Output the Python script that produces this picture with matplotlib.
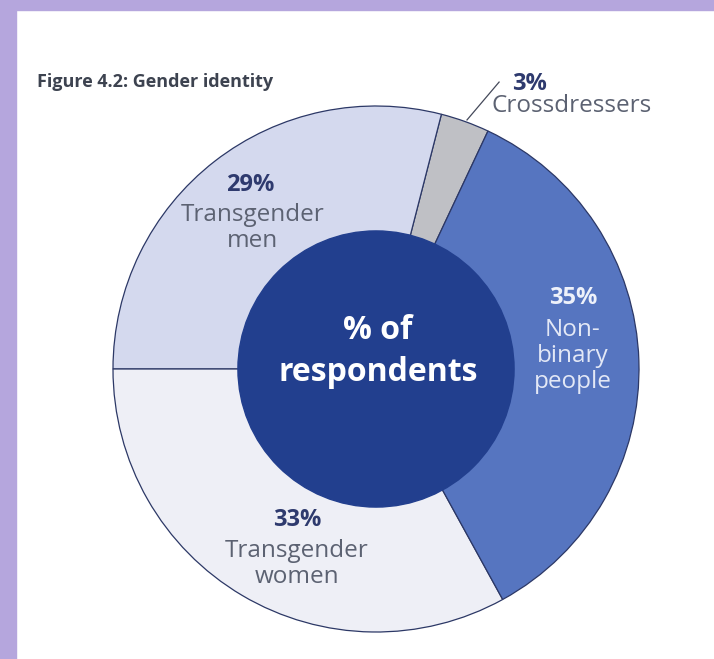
import matplotlib as mpl
import matplotlib.pyplot as plt
from matplotlib.patches import Circle, Rectangle

mpl.rcParams.update({"font.family": ["Open Sans", "DejaVu Sans"]})

# data, counter-clockwise from the crossdressers slice
groups = ["Crossdressers", "Transgender men", "Transgender women", "Non-binary people"]
shares = [3, 29, 33, 35]
pct_labels = ["3%", "29%", "33%", "35%"]
name_labels = ["Crossdressers", "Transgender\nmen", "Transgender\nwomen", "Non-\nbinary\npeople"]

C_PURPLE = "#b5a6dd"
C_NAVY = "#223f8e"
C_TEXT = "#2e3a6e"
C_GREY_TXT = "#5c6272"
colors = ["#bfc0c5", "#d4d9ee", "#eeeff6", "#5675c0"]

W, H = 714, 659
fig = plt.figure(figsize=(W / 100, H / 100), dpi=100)
fig.patch.set_facecolor("white")

# lavender frame (left + top only)
fig.patches.append(Rectangle((0, 0), 16 / W, 1, transform=fig.transFigure,
                             color=C_PURPLE, zorder=0))
fig.patches.append(Rectangle((0, 1 - 10 / H), 1, 10 / H, transform=fig.transFigure,
                             color=C_PURPLE, zorder=0))

cx, cy, r = 376, 369, 263
ax = fig.add_axes([(cx - r) / W, (H - cy - r) / H, 2 * r / W, 2 * r / H])
ax.axis("off")

# men / women boundary sits on the horizontal at 180 deg
start = 180 - (shares[0] + shares[1]) * 3.6
ax.pie(shares, colors=colors, startangle=start, counterclock=True, radius=1,
       wedgeprops={"edgecolor": "#2c3866", "linewidth": 0.9})
ax.set_xlim(-1, 1)
ax.set_ylim(-1, 1)
ax.set_aspect("equal")
ax.add_patch(Circle((0, 0), 0.525, color=C_NAVY, zorder=5))

ax.text(0.008, 0.148, "% of", ha="center", va="center", color="white",
        fontsize=23, fontweight="bold", zorder=6)
ax.text(0.008, -0.015, "respondents", ha="center", va="center", color="white",
        fontsize=23, fontweight="bold", zorder=6)

# slice labels
pct_style = dict(ha="center", va="center", fontsize=17, fontweight="bold")
name_style = dict(ha="center", va="center", fontsize=17.5, linespacing=1.1)

ax.text(-0.48, 0.70, pct_labels[1], color=C_TEXT, **pct_style)
ax.text(-0.47, 0.536, name_labels[1], color=C_GREY_TXT, **name_style)

ax.text(-0.30, -0.574, pct_labels[2], color=C_TEXT, **pct_style)
ax.text(-0.30, -0.74, name_labels[2], color=C_GREY_TXT, **name_style)

ax.text(0.749, 0.27, pct_labels[3], color="#eef1fa", **pct_style)
ax.text(0.749, 0.05, name_labels[3], color="#e3e8f6", **name_style)

# crossdressers callout outside the ring
ax.plot([0.346, 0.468], [0.947, 1.091], color="#44495a", linewidth=0.9, clip_on=False)
ax.text(0.517, 1.084, pct_labels[0], color=C_TEXT, ha="left", va="center",
        fontsize=17, fontweight="bold")
ax.text(0.441, 1.0, name_labels[0], color=C_GREY_TXT, ha="left", va="center",
        fontsize=17.5)

fig.text(37 / W, 1 - 82 / H, "Figure 4.2: Gender identity", ha="left", va="center",
         fontsize=13, fontweight="bold", color="#3d4350")

fig.savefig("out.png", dpi=100, facecolor="white")
